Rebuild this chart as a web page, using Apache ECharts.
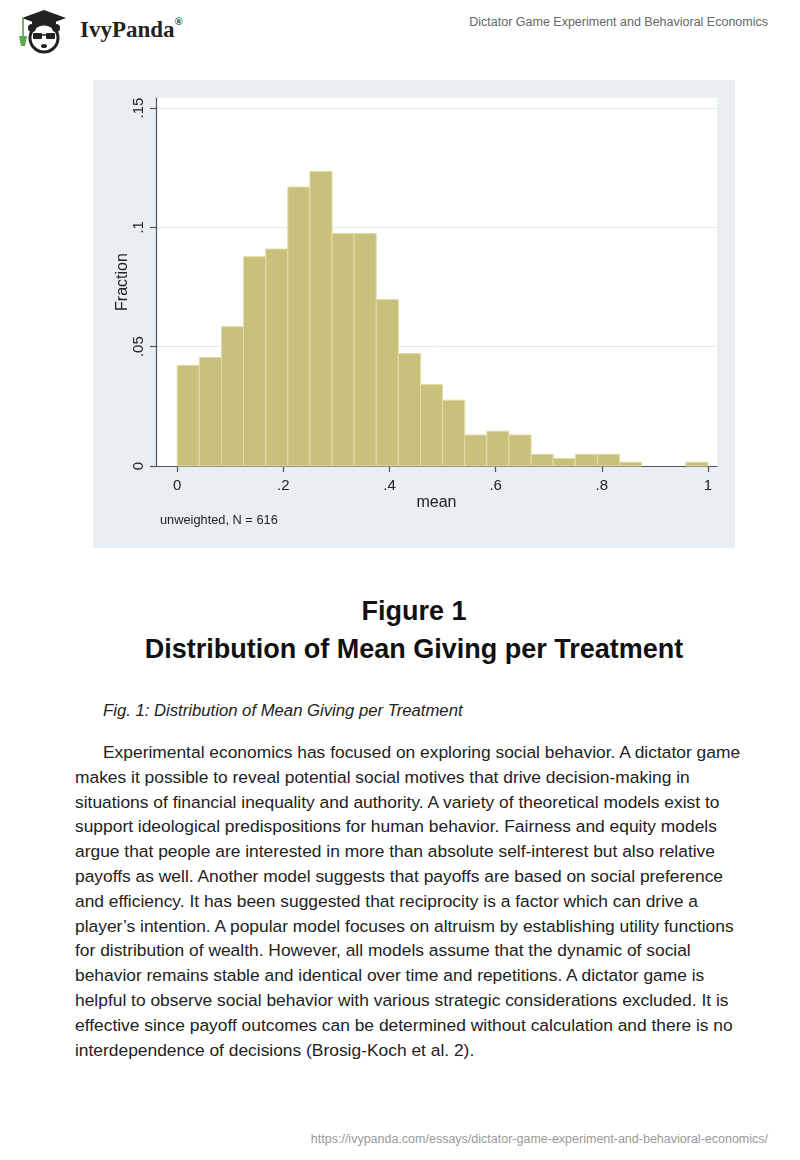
<!DOCTYPE html>
<html>
<head>
<meta charset="utf-8">
<script src="https://cdn.jsdelivr.net/npm/echarts@6/dist/echarts.min.js"></script>
<style>
  html, body { margin:0; padding:0; background:#fff; }
  body { width:800px; height:1160px; position:relative; overflow:hidden; font-family:"Liberation Sans", Arial, sans-serif; }
  .abs { position:absolute; }
  #hdr { right:32px; top:15px; font-size:12.5px; color:#666; }
  #logoText { left:80px; top:17px; font-family:"Liberation Serif", serif; font-weight:bold; font-size:23px; color:#222; }
  #logoText sup { font-size:11px; vertical-align:top; position:relative; top:-2px; }
  #chart { left:93px; top:80px; width:642px; height:468px; }
  #fig1 { left:14px; width:800px; top:592px; text-align:center; font-weight:bold; font-size:27px; color:#111; line-height:38px; }
  #cap { left:103px; top:701px; font-style:italic; font-size:16.7px; color:#222; }
  #para { left:75px; top:740px; font-size:17.4px; line-height:24.8px; color:#222; white-space:nowrap; }
  #url { right:32px; top:1132px; font-size:12.5px; color:#999; }
</style>
</head>
<body>
<svg class="abs" style="left:14px;top:6px" width="60" height="50" viewBox="0 0 60 50">
  <polygon points="8,12 30,4 52,12 30,20" fill="#222"/>
  <rect x="18" y="13" width="24" height="7" fill="#222"/>
  <line x1="9" y1="12" x2="9" y2="30" stroke="#4a9a3a" stroke-width="1.5"/>
  <path d="M5,30 L13,30 L11,40 L7,40 Z" fill="#5aa84a"/>
  <circle cx="30" cy="32" r="14" fill="#fff" stroke="#222" stroke-width="3"/>
  <circle cx="18" cy="22" r="4" fill="#222"/>
  <circle cx="42" cy="22" r="4" fill="#222"/>
  <rect x="19" y="27" width="9" height="6" rx="1" fill="#222"/>
  <rect x="32" y="27" width="9" height="6" rx="1" fill="#222"/>
  <line x1="28" y1="29" x2="32" y2="29" stroke="#222" stroke-width="1.5"/>
  <ellipse cx="30" cy="40" rx="3" ry="2" fill="#222"/>
</svg>
<div id="logoText" class="abs">IvyPanda<sup>®</sup></div>
<div id="hdr" class="abs">Dictator Game Experiment and Behavioral Economics</div>
<div id="chart" class="abs"></div>
<div id="fig1" class="abs">Figure 1<br>Distribution of Mean Giving per Treatment</div>
<div id="cap" class="abs">Fig. 1: Distribution of Mean Giving per Treatment</div>
<div id="para" class="abs"><span style="display:inline-block;width:28px"></span>Experimental economics has focused on exploring social behavior. A dictator game<br>makes it possible to reveal potential social motives that drive decision-making in<br>situations of financial inequality and authority. A variety of theoretical models exist to<br>support ideological predispositions for human behavior. Fairness and equity models<br>argue that people are interested in more than absolute self-interest but also relative<br>payoffs as well. Another model suggests that payoffs are based on social preference<br>and efficiency. It has been suggested that reciprocity is a factor which can drive a<br>player’s intention. A popular model focuses on altruism by establishing utility functions<br>for distribution of wealth. However, all models assume that the dynamic of social<br>behavior remains stable and identical over time and repetitions. A dictator game is<br>helpful to observe social behavior with various strategic considerations excluded. It is<br>effective since payoff outcomes can be determined without calculation and there is no<br>interdependence of decisions (Brosig-Koch et al. 2).</div>
<div id="url" class="abs">https://ivypanda.com/essays/dictator-game-experiment-and-behavioral-economics/</div>
<script>
// ---- data ----
const binWidth = 1 / 24;
const fractions = [0.0422, 0.0455, 0.0584, 0.0877, 0.0909, 0.1169, 0.1234, 0.0974,
                   0.0974, 0.0698, 0.0471, 0.0341, 0.0276, 0.0130, 0.0146, 0.0130,
                   0.0049, 0.0032, 0.0049, 0.0049, 0.0016, 0.0000, 0.0000, 0.0016];
const xTicks = [0, 0.2, 0.4, 0.6, 0.8, 1];
const yTicks = [0, 0.05, 0.1, 0.15];
const xTitle = 'mean';
const yTitle = 'Fraction';
const note = 'unweighted, N = 616';

const histData = fractions.map((f, i) => [i * binWidth, (i + 1) * binWidth, f]);

function stataFmt(v) {
  const r = +(+v).toFixed(3);
  if (r === 0) return '0';
  if (r === 1) return '1';
  return String(r).replace(/^0\./, '.');
}

const chart = echarts.init(document.getElementById('chart'), null, { renderer: 'canvas' });
const axisColor = '#555';
chart.setOption({
  backgroundColor: '#e8eef2',
  animation: false,
  grid: { left: 63, right: 18, top: 18, bottom: 82, show: true, backgroundColor: '#fff', borderWidth: 0 },
  xAxis: {
    type: 'value', min: -0.04, max: 1.017,
    name: xTitle, nameLocation: 'middle', nameGap: 29, nameMoveOverlap: false,
    nameTextStyle: { fontSize: 16, color: '#222', fontFamily: 'Liberation Sans' },
    axisLine: { show: true, onZero: false, lineStyle: { color: axisColor, width: 1.2 } },
    axisTick: { show: true, length: 6, lineStyle: { color: axisColor, width: 1.2 }, customValues: xTicks },
    axisLabel: { customValues: xTicks, formatter: stataFmt, fontSize: 15, color: '#222', margin: 12, fontFamily: 'Liberation Sans' },
    splitLine: { show: false }
  },
  yAxis: {
    type: 'value', min: 0, max: 0.1542, interval: 0.05,
    name: yTitle, nameLocation: 'middle', nameGap: 25, nameRotate: 90, nameMoveOverlap: false,
    nameTextStyle: { fontSize: 16, color: '#222', fontFamily: 'Liberation Sans' },
    axisLine: { show: true, onZero: false, lineStyle: { color: axisColor, width: 1.2 } },
    axisTick: { show: true, length: 6, lineStyle: { color: axisColor, width: 1.2 }, customValues: yTicks },
    axisLabel: { customValues: yTicks, formatter: stataFmt, rotate: 90, fontSize: 15, color: '#222', margin: 10, fontFamily: 'Liberation Sans' },
    splitLine: { show: true, lineStyle: { color: '#e7eaeb', width: 1 } }
  },
  graphic: [{
    type: 'text', left: 67, top: 434,
    style: { text: note, fontSize: 12.8, fill: '#222', fontFamily: 'Liberation Sans' }
  }],
  series: [{
    type: 'custom',
    data: histData,
    encode: { x: [0, 1], y: 2 },
    renderItem: function (params, api) {
      const y = api.value(2);
      if (!(y > 0)) return null;
      const p0 = api.coord([api.value(0), 0]);
      const p1 = api.coord([api.value(1), y]);
      return {
        type: 'rect',
        shape: { x: p0[0], y: p1[1], width: p1[0] - p0[0], height: p0[1] - p1[1] },
        style: { fill: '#c9c17b', stroke: '#e2dcaa', lineWidth: 1 }
      };
    }
  }]
});
</script>
</body>
</html>
